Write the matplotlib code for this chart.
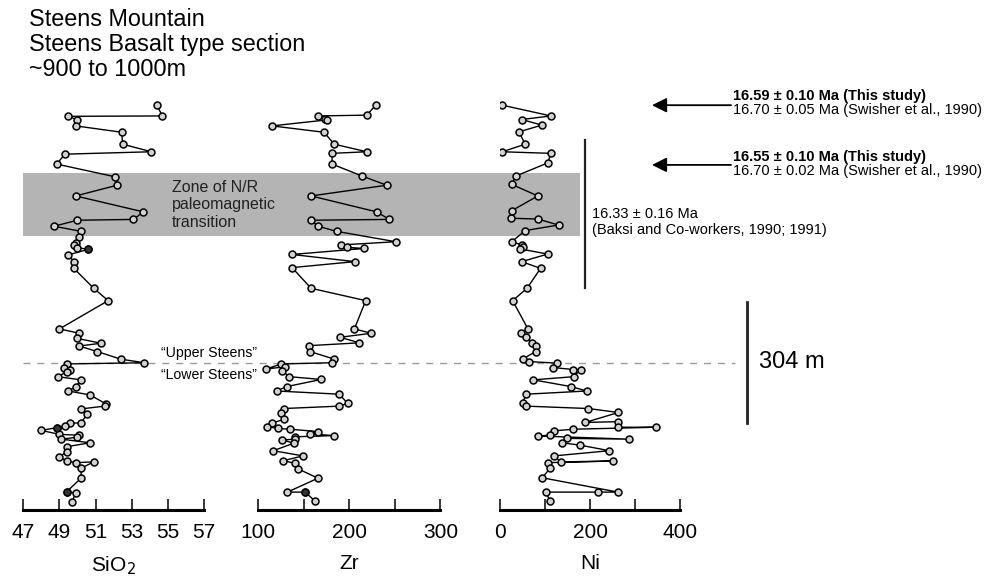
import matplotlib.pyplot as plt
from matplotlib.transforms import blended_transform_factory
from matplotlib.patches import Rectangle
from matplotlib.lines import Line2D

plt.rcParams['font.family'] = ['Liberation Sans', 'DejaVu Sans']

# stratigraphic height above base of section (m) and values
sio2_h = [1017, 990, 989, 980, 965, 949, 919, 900, 894, 869, 837, 816, 789, 749, 730, 728, 713, 700,
          687, 670, 666, 659, 655, 641, 624, 607, 557, 526, 455, 444, 431, 419, 412, 398, 379, 370,
          367, 358, 352, 347, 335, 327, 310, 299, 289, 266, 261, 254, 242, 219, 218, 211, 207, 200,
          190, 188, 183, 178, 169, 159, 146, 134, 123, 119, 121, 105, 80, 46, 43, 21]
sio2 = [54.4, 54.7, 49.5, 50.0, 49.9, 52.45, 52.5, 54.1, 49.3, 48.85, 52.1, 52.2, 49.9, 53.65, 53.1,
        50.0, 48.7, 50.2, 50.1, 49.9, 49.8, 50.0, 50.6, 49.5, 49.8, 49.8, 50.9, 51.7, 49.0, 50.1,
        50.0, 51.3, 50.1, 51.1, 52.4, 53.7, 49.4, 49.25, 49.6, 49.4, 48.9, 50.2, 49.9, 49.5, 50.7,
        51.6, 51.5, 50.2, 50.55, 50.2, 49.6, 49.3, 48.85, 48.0, 49.0, 50.1, 50.0, 49.1, 50.7, 49.4,
        49.4, 49.0, 49.4, 49.9, 50.9, 50.2, 50.2, 49.4, 49.9, 49.7]
sio2_filled = [22, 52, 67]

zr_h = [1017, 992, 990, 982, 980, 965, 949, 919, 900, 896, 869, 839, 816, 789, 749, 730, 728, 713,
        700, 674, 666, 660, 657, 642, 624, 609, 557, 526, 455, 444, 434, 420, 413, 398, 379, 370,
        367, 354, 360, 350, 335, 328, 310, 299, 291, 268, 261, 255, 243, 228, 218, 209, 205, 203,
        197, 191, 187, 184, 178, 176, 168, 149, 136, 124, 117, 103, 80, 45, 45, 23]
zr = [229, 219, 166, 173, 175, 115, 172, 183.5, 219, 181, 181, 214, 241, 158, 230, 244, 158, 165.5,
      186, 251, 191, 197.5, 216, 137, 206, 137, 158, 218, 205.5, 224, 190, 211, 156, 157, 183.5, 181,
      125, 108.5, 129, 126, 134, 169, 131, 120, 189, 198, 189, 128, 125, 128, 115, 110, 122, 135,
      165.5, 157, 183.5, 140, 140.5, 126, 139, 116.5, 149, 127.6, 140.5, 144, 165.5, 132, 151.5, 162]
zr_filled = [68]

ni_h = [1017, 990, 981, 967, 950, 919, 900, 896, 872, 839, 818, 789, 752, 733, 731, 716, 702, 674,
        666, 660, 656, 643, 624, 607, 557, 526, 455, 444, 434, 420, 413, 398, 379, 373, 369, 358,
        353, 353, 335, 327, 310, 299, 291, 268, 261, 255, 245, 220, 222, 208, 208, 203, 199, 188,
        186, 178, 180, 169, 163, 149, 136, 121, 123, 119, 105, 81, 45, 45, 45, 23]
ni = [5, 113, 48, 93, 42, 56, 5, 113, 106, 35, 26, 84, 26, 24, 84, 130, 56, 26, 48, 52, 44, 106, 48,
      90, 60, 28, 62, 46, 58, 70, 80, 79, 50, 64, 126, 117, 163, 179, 164, 74, 158, 193, 58, 50, 58,
      196, 263, 189, 263, 263, 347, 163, 121, 111, 85, 287, 148, 137, 178, 243, 120, 135, 250, 106,
      111, 94, 262, 217, 102, 111]

panels = [
    ("SiO$_2$", sio2, sio2_h, sio2_filled, (47, 57), [47, 49, 51, 53, 55, 57], [47, 49, 51, 53, 55, 57]),
    ("Zr", zr, zr_h, zr_filled, (100, 300), [100, 150, 200, 250, 300], [100, 200, 300]),
    ("Ni", ni, ni_h, [], (0, 400), [0, 100, 200, 300, 400], [0, 200, 400]),
]
# figure positions of the three panels (left, width)
panel_pos = [(0.0236, 0.1825), (0.2612, 0.1841), (0.5056, 0.182)]

zone_h = (688, 846)
boundary_h = 369
baksi_h = (558, 929)
scale_h = (219, 523)
arrow_h = [1017, 867]

W, H = 989, 578


def fx(px):
    return px / W


def fy(py):
    return 1 - py / H


fig = plt.figure(figsize=(9.89, 5.78), dpi=100)
axes = []
for (name, vals, hts, filled, lim, ticks, labels), (left, width) in zip(panels, panel_pos):
    ax = fig.add_axes([left, 0.1176, width, 0.7197], facecolor='none')
    ax.plot(vals, hts, color='black', lw=1.0, marker='o', ms=5, mfc='#d2d2d2', mec='black',
            mew=1.1, zorder=3)
    if filled:
        ax.plot([vals[i] for i in filled], [hts[i] for i in filled], ls='none', marker='o', ms=5,
                mfc='#333333', mec='black', mew=1.0, zorder=4)
    ax.set_xlim(*lim)
    ax.set_ylim(0, 1045)
    for s in ['top', 'left', 'right']:
        ax.spines[s].set_visible(False)
    ax.spines['bottom'].set_linewidth(2.2)
    ax.set_yticks([])
    ax.set_xticks(ticks)
    ax.set_xticklabels([str(t) if t in labels else '' for t in ticks], fontsize=15)
    ax.tick_params(axis='x', direction='in', length=8, width=1.1, pad=9)
    ax.set_xlabel(name, fontsize=15, labelpad=9)
    axes.append(ax)

ax_ref = axes[0]
tr = blended_transform_factory(fig.transFigure, ax_ref.transData)

# paleomagnetic transition zone
fig.add_artist(Rectangle((fx(23), zone_h[0]), fx(580) - fx(23), zone_h[1] - zone_h[0],
                         transform=tr, facecolor='#b4b4b4', edgecolor='none', zorder=-1))
# upper / lower Steens boundary
fig.add_artist(Line2D([fx(23), fx(735)], [boundary_h, boundary_h], transform=tr,
                      color='#9a9a9a', lw=1.0, ls=(0, (5, 5)), zorder=-1))
# Baksi age range bar
fig.add_artist(Line2D([fx(585), fx(585)], list(baksi_h), transform=tr, color='#222222', lw=1.6))
# 304 m scale bar
fig.add_artist(Line2D([fx(747), fx(747)], list(scale_h), transform=tr, color='#222222', lw=2.0))

for h in arrow_h:
    axes[2].annotate('', xy=(fx(652), h), xytext=(fx(731), h),
                     xycoords=('figure fraction', 'data'), textcoords=('figure fraction', 'data'),
                     arrowprops=dict(arrowstyle='-|>', color='black', lw=1.3, mutation_scale=22,
                                     shrinkA=0, shrinkB=0), annotation_clip=False)

title_lines = ["Steens Mountain", "Steens Basalt type section", "~900 to 1000m"]
for line, py in zip(title_lines, [20, 45, 70]):
    fig.text(fx(29), fy(py), line, fontsize=16.8, va='center', ha='left')

fig.text(fx(172), fy(205), "Zone of N/R\npaleomagnetic\ntransition", fontsize=11.5,
         va='center', ha='left', linespacing=1.2, color='#222222')
fig.text(fx(257), fy(353), "\u201cUpper Steens\u201d", fontsize=10.2, ha='right', va='center')
fig.text(fx(257), fy(375), "\u201cLower Steens\u201d", fontsize=10.2, ha='right', va='center')

fig.text(fx(733), fy(96), "16.59 \u00b1 0.10 Ma (This study)", fontsize=10.5, fontweight='bold',
         va='center')
fig.text(fx(733), fy(110), "16.70 \u00b1 0.05 Ma (Swisher et al., 1990)", fontsize=10.5, va='center')
fig.text(fx(733), fy(157), "16.55 \u00b1 0.10 Ma (This study)", fontsize=10.5, fontweight='bold',
         va='center')
fig.text(fx(733), fy(171), "16.70 \u00b1 0.02 Ma (Swisher et al., 1990)", fontsize=10.5, va='center')
fig.text(fx(592), fy(214), "16.33 \u00b1 0.16 Ma", fontsize=10.5, va='center')
fig.text(fx(592), fy(230), "(Baksi and Co-workers, 1990; 1991)", fontsize=10.5, va='center')
fig.text(fx(759), fy(362), "304 m", fontsize=17, va='center')

fig.savefig("out.png", dpi=100)
